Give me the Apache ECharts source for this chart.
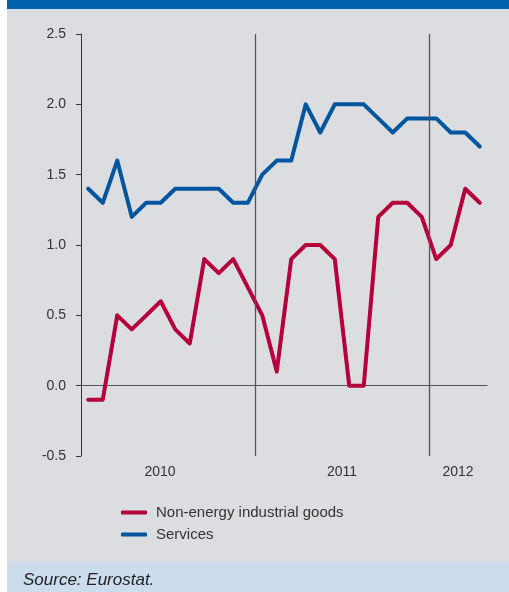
<!DOCTYPE html>
<html>
<head>
<meta charset="utf-8">
<script src="https://cdn.jsdelivr.net/npm/echarts@6/dist/echarts.min.js"></script>
<style>
  html, body { margin: 0; padding: 0; background: #ffffff; }
  #chart { width: 509px; height: 592px; }
</style>
</head>
<body>
<div id="chart"></div>
<script>
// Monthly year-on-year rates, January 2010 to April 2012
const months = [
  '2010-01','2010-02','2010-03','2010-04','2010-05','2010-06','2010-07','2010-08','2010-09','2010-10','2010-11','2010-12',
  '2011-01','2011-02','2011-03','2011-04','2011-05','2011-06','2011-07','2011-08','2011-09','2011-10','2011-11','2011-12',
  '2012-01','2012-02','2012-03','2012-04'
];
const goods = [
  -0.1, -0.1, 0.5, 0.4, 0.5, 0.6, 0.4, 0.3, 0.9, 0.8, 0.9, 0.7,
  0.5, 0.1, 0.9, 1.0, 1.0, 0.9, 0.0, 0.0, 1.2, 1.3, 1.3, 1.2,
  0.9, 1.0, 1.4, 1.3
];
const services = [
  1.4, 1.3, 1.6, 1.2, 1.3, 1.3, 1.4, 1.4, 1.4, 1.4, 1.3, 1.3,
  1.5, 1.6, 1.6, 2.0, 1.8, 2.0, 2.0, 2.0, 1.9, 1.8, 1.9, 1.9,
  1.9, 1.8, 1.8, 1.7
];
const seriesNames = ['Non-energy industrial goods', 'Services'];
const yearLabels = ['2010', '2011', '2012'];
// where each year label sits, in month units from the start of the axis
const yearLabelPos = [5.45, 18, 26];
// month boundaries that start a new year
const yearBreaks = [12, 24];

const chart = echarts.init(document.getElementById('chart'), null, { renderer: 'canvas' });

const axisFont = '"Liberation Sans", Arial, sans-serif';

chart.setOption({
  animation: false,
  backgroundColor: '#ffffff',
  graphic: [
    { type: 'rect', z: -10, shape: { x: 7, y: 0, width: 502, height: 592 }, style: { fill: '#dcdde0' } },
    { type: 'rect', z: -9, shape: { x: 7, y: 0, width: 502, height: 9 }, style: { fill: '#0061ac' } },
    { type: 'rect', z: -9, shape: { x: 7, y: 562, width: 502, height: 30 }, style: { fill: '#ccdcec' } },
    {
      type: 'text', z: 10, left: 23, top: 572,
      style: {
        text: 'Source: Eurostat.',
        font: 'italic 17px "Liberation Sans Narrow", "Liberation Sans", sans-serif',
        fill: '#222222'
      }
    }
  ],
  grid: { left: 81, right: 22, top: 34, bottom: 136, containLabel: false },
  legend: {
    orient: 'vertical',
    left: 121,
    top: 505,
    padding: 0,
    icon: 'roundRect',
    itemWidth: 26,
    itemHeight: 4,
    itemGap: 7,
    data: seriesNames,
    textStyle: { fontFamily: axisFont, fontSize: 15, color: '#333333', padding: [0, 0, 0, 4] }
  },
  xAxis: [
    {
      type: 'category',
      data: months,
      boundaryGap: true,
      axisLine: { onZero: true, lineStyle: { color: '#555555', width: 1 } },
      axisTick: { show: false },
      axisLabel: { show: false },
      splitLine: { show: false }
    },
    {
      type: 'value',
      position: 'bottom',
      min: 0,
      max: months.length,
      axisLine: { show: false, onZero: false },
      axisTick: { show: false },
      splitLine: { show: false },
      axisLabel: {
        customValues: yearLabelPos,
        margin: 9,
        fontFamily: axisFont,
        fontSize: 14,
        color: '#333333',
        formatter: (v) => {
          const i = yearLabelPos.findIndex((p) => Math.abs(p - v) < 1e-6);
          return i === -1 ? '' : yearLabels[i];
        }
      }
    }
  ],
  yAxis: {
    type: 'value',
    min: -0.5,
    max: 2.5,
    interval: 0.5,
    axisLine: { show: true, lineStyle: { color: '#333333', width: 1 } },
    axisTick: { show: true, inside: false, length: 5, lineStyle: { color: '#333333' } },
    splitLine: { show: false },
    axisLabel: {
      margin: 15,
      fontFamily: axisFont,
      fontSize: 14,
      color: '#333333',
      formatter: (v) => v.toFixed(1)
    }
  },
  series: [
    {
      // year dividers, placed on the month-unit axis
      name: 'year-breaks',
      type: 'line',
      xAxisIndex: 1,
      data: [],
      silent: true,
      z: 1,
      markLine: {
        silent: true,
        symbol: 'none',
        label: { show: false },
        lineStyle: { color: '#555555', width: 1.3, type: 'solid' },
        data: yearBreaks.map((m) => ({ xAxis: m }))
      }
    },
    {
      name: seriesNames[0],
      type: 'line',
      data: goods,
      symbol: 'none',
      color: '#b4003c',
      lineStyle: { width: 4, color: '#b4003c', cap: 'round', join: 'round' },
      z: 3
    },
    {
      name: seriesNames[1],
      type: 'line',
      data: services,
      symbol: 'none',
      color: '#00559f',
      lineStyle: { width: 4, color: '#00559f', cap: 'round', join: 'round' },
      z: 3
    }
  ]
});
</script>
</body>
</html>
